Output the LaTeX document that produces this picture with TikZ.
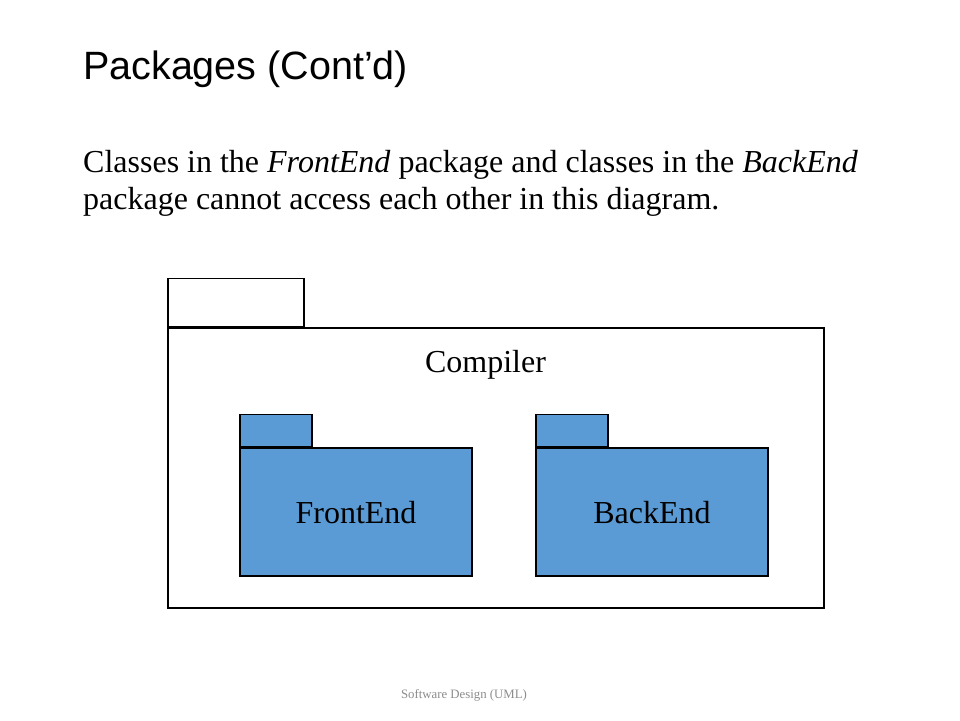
\documentclass[tikz,border=0pt]{standalone}
\usepackage{fontspec}
\setmainfont{Liberation Serif}
\newfontfamily\titlefont{Liberation Sans}
\usetikzlibrary{positioning}
\definecolor{pkgblue}{HTML}{5B9BD5}
\definecolor{footgray}{HTML}{8C8C8C}
\tikzset{
  pkgbody/.style={draw=black, line width=1.1pt, inner sep=0pt, font=\fontsize{32}{37}\selectfont},
  pkgtab/.style={draw=black, line width=1.1pt, inner sep=0pt, anchor=south west},
}
\begin{document}
\begin{tikzpicture}[x=1pt,y=-1pt]
			%%%%% START %%%%%
			\useasboundingbox (0,0) rectangle (960,720);
			
			\node[anchor=base west, inner sep=0pt, font=\titlefont\fontsize{39.5}{44}\selectfont] (title) at (83,79) {Packages (Cont’d)};
			
			\node[anchor=base west, inner sep=0pt, align=left, font=\fontsize{32}{37}\selectfont] (intro) at (83,209)
			{Classes in the \textit{FrontEnd} package and classes in the \textit{BackEnd}\\package cannot access each other in this diagram.};
			
			% outer package
			\node[pkgbody, fill=white, minimum width=656pt, minimum height=280pt] (compiler) at (496,468) {};
			\node[pkgtab, fill=white, minimum width=136pt, minimum height=48pt] (compilertab) at (compiler.north west) {};
			\node[anchor=base, inner sep=0pt, font=\fontsize{32}{37}\selectfont] (compilerlabel) at (485.5,372) {Compiler};
			
			% inner packages
			\node[pkgbody, fill=pkgblue, minimum width=232pt, minimum height=128pt, text depth=0pt] (frontend) at (356,512) {FrontEnd};
			\node[pkgtab, fill=pkgblue, minimum width=72pt, minimum height=32pt] (frontendtab) at (frontend.north west) {};
			
			\node[pkgbody, fill=pkgblue, minimum width=232pt, minimum height=128pt, text depth=0pt] (backend) at (652,512) {BackEnd};
			\node[pkgtab, fill=pkgblue, minimum width=72pt, minimum height=32pt] (backendtab) at (backend.north west) {};
			
			\node[anchor=base, inner sep=0pt, text=footgray, font=\fontsize{12.8}{15}\selectfont] (footer) at (464,698) {Software Design (UML)};
			%%%%% END %%%%%
\end{tikzpicture}
\end{document}
